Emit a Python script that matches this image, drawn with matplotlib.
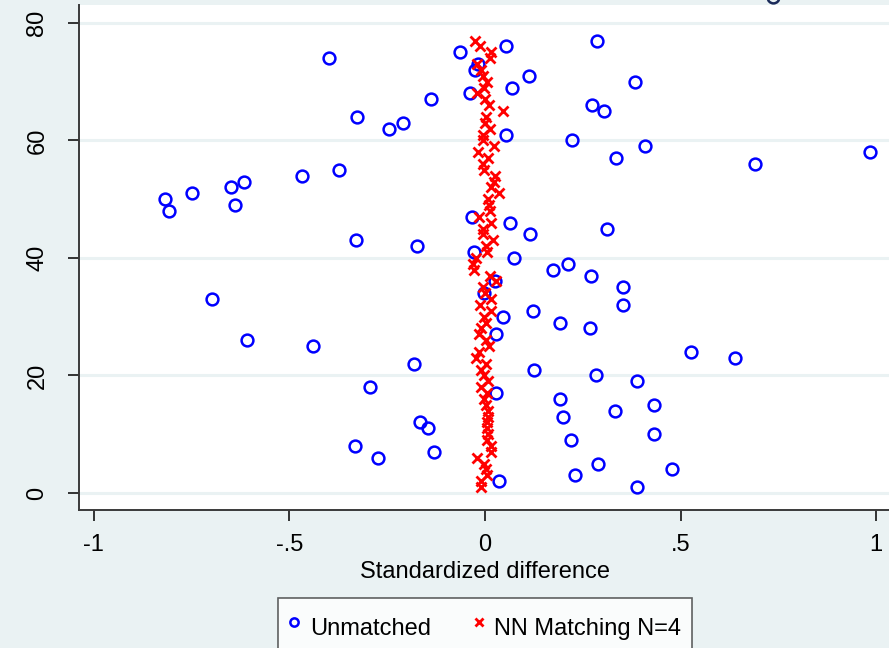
import numpy as np
import matplotlib.pyplot as plt

plt.rcParams['font.family'] = ['Liberation Sans', 'DejaVu Sans']

# variable index (y) and standardized differences
variables = np.arange(1, 78)
unmatched = [0.388, 0.036, 0.231, 0.479, 0.288, -0.274, -0.130, -0.333, 0.219, 0.433,
             -0.146, -0.166, 0.200, 0.332, 0.431, 0.192, 0.029, -0.293, 0.388, 0.283,
             0.125, -0.182, 0.639, 0.527, -0.440, -0.609, 0.028, 0.269, 0.193, 0.047,
             0.122, 0.353, -0.699, -0.002, 0.353, 0.026, 0.270, 0.175, 0.213, 0.075,
             -0.027, -0.175, -0.329, 0.114, 0.312, 0.065, -0.034, -0.809, -0.638, -0.817,
             -0.750, -0.650, -0.616, -0.467, -0.373, 0.691, 0.335, 0.985, 0.410, 0.223,
             0.054, -0.246, -0.210, -0.328, 0.304, 0.274, -0.138, -0.039, 0.070, 0.384,
             0.113, -0.026, -0.019, -0.400, -0.063, 0.053, 0.286]
matched = [-0.010, -0.009, 0.004, 0.002, -0.003, -0.021, 0.015, 0.015, 0.004, 0.008,
           0.004, 0.004, 0.008, 0.008, 0.002, -0.003, 0.004, -0.009, 0.008, -0.003,
           -0.009, 0.002, -0.023, -0.015, 0.011, 0.002, -0.015, -0.009, 0.002, -0.003,
           0.015, -0.013, 0.015, 0.000, -0.006, 0.028, 0.013, -0.027, -0.031, -0.023,
           0.004, 0.003, 0.020, -0.006, -0.006, 0.015, -0.015, 0.013, 0.011, 0.008,
           0.036, 0.015, 0.024, 0.026, -0.003, -0.006, 0.007, -0.019, 0.023, -0.004,
           -0.006, 0.013, 0.000, 0.002, 0.046, 0.010, 0.000, -0.020, -0.003, 0.004,
           -0.005, -0.009, -0.020, 0.012, 0.015, -0.013, -0.025]
# point just above the visible plot region
extra_x = [0.737]
extra_y = [84.5]

xticks = [-1, -0.5, 0, 0.5, 1]
xticklabels = ["-1", "-.5", "0", ".5", "1"]
yticks = [0, 20, 40, 60, 80]

bg = '#EAF2F3'
axcol = '#3a3a3a'

fig = plt.figure(figsize=(8.89, 6.48), dpi=100, facecolor=bg)
ax = fig.add_axes([79/889, 138/648, 812/889, 505/648])
ax.set_facecolor('white')

ax.plot(unmatched, variables, 'o', mfc='none', mec='#0000FF', ms=8.5, mew=1.8,
        ls='none', label='Unmatched', zorder=3)
ax.plot(matched, variables, 'x', color='#FF0000', ms=7.5, mew=2.0,
        ls='none', label='NN Matching N=4', zorder=4)
ax.plot(extra_x, extra_y, 'o', mfc='none', mec='#1a2a5a', ms=8.5, mew=1.8,
        ls='none', clip_on=False, zorder=3)

ax.set_xlim(-1.038, 1.038)
ax.set_ylim(-2.894, 83.06)

ax.set_xticks(xticks)
ax.set_xticklabels(xticklabels)
ax.set_yticks(yticks)
ax.set_yticklabels([str(v) for v in yticks], rotation=90, va='center')

ax.grid(axis='y', color=bg, lw=2.2)
ax.set_axisbelow(True)
for s in ['top', 'right']:
    ax.spines[s].set_visible(False)
for s in ['left', 'bottom']:
    ax.spines[s].set_color(axcol)
    ax.spines[s].set_linewidth(1.4)

ax.tick_params(axis='both', colors='black', labelsize=17, length=8, width=1.1)
ax.tick_params(axis='y', pad=14)
ax.tick_params(axis='x', pad=9)
for t in ax.get_xticklines() + ax.get_yticklines():
    t.set_color(axcol)

ax.set_xlabel('Standardized difference', fontsize=17, labelpad=4)

leg = fig.legend(loc='upper center', bbox_to_anchor=(485/889, 1 - 598/648),
                 ncol=2, fontsize=17, frameon=True, fancybox=False,
                 edgecolor=axcol, markerscale=0.7, handlelength=0.5,
                 handleheight=2.1, handletextpad=0.4, columnspacing=1.8,
                 borderpad=0.45, borderaxespad=0)
leg.get_frame().set_linewidth(1.2)
leg.get_frame().set_facecolor('white')

fig.savefig('out.png', dpi=100, facecolor=bg)
